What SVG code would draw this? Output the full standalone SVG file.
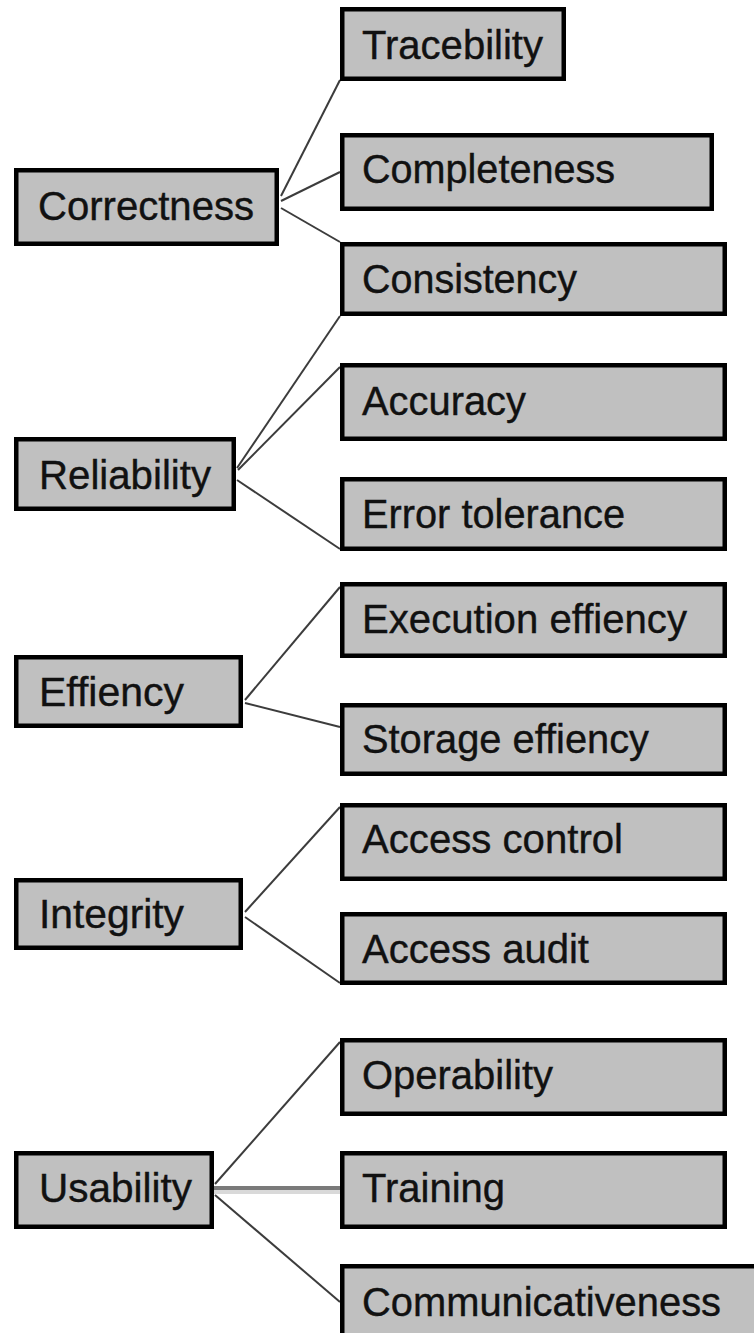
<svg xmlns="http://www.w3.org/2000/svg" width="754" height="1333" viewBox="0 0 754 1333">
<style>
.box{fill:#c0c0c0;stroke:#000;stroke-width:4.5}
.lbl{font-family:"Liberation Sans",Arial,sans-serif;font-size:41px;fill:#111;stroke:#111;stroke-width:0.4}
.con{stroke:#3c3c3c;stroke-width:2;fill:none}
</style>
<rect width="754" height="1333" fill="#fff"/>
<g id="connectors">
<line class="con" x1="281" y1="196" x2="340" y2="80"/>
<line class="con" x1="281" y1="201" x2="340" y2="172"/>
<line class="con" x1="281" y1="208" x2="340" y2="242"/>
<line class="con" x1="237" y1="468" x2="340" y2="316"/>
<line class="con" x1="238" y1="470" x2="340" y2="367"/>
<line class="con" x1="237" y1="480" x2="340" y2="549"/>
<line class="con" x1="245" y1="700" x2="340" y2="587"/>
<line class="con" x1="245" y1="703" x2="340" y2="727"/>
<line class="con" x1="245" y1="912" x2="340" y2="807"/>
<line class="con" x1="245" y1="917" x2="340" y2="983"/>
<line class="con" x1="215" y1="1184" x2="340" y2="1042"/>
<line x1="214" y1="1188" x2="340" y2="1188" stroke="#7a7a7a" stroke-width="4"/>
<line x1="214" y1="1192" x2="340" y2="1192" stroke="#d9d9d9" stroke-width="4"/>
<line class="con" x1="215" y1="1195" x2="340" y2="1302"/>
</g>
<g id="correctness"><rect class="box" x="16.25" y="170.25" width="260.5" height="73.5"/><text class="lbl" x="38" y="220" textLength="216" lengthAdjust="spacingAndGlyphs">Correctness</text></g>
<g id="tracebility"><rect class="box" x="342.25" y="9.25" width="221.5" height="69.5"/><text class="lbl" x="362" y="59" textLength="181" lengthAdjust="spacingAndGlyphs">Tracebility</text></g>
<g id="completeness"><rect class="box" x="342.25" y="135.25" width="369.5" height="73.5"/><text class="lbl" x="362" y="183" textLength="253" lengthAdjust="spacingAndGlyphs">Completeness</text></g>
<g id="consistency"><rect class="box" x="342.25" y="244.25" width="382.5" height="69.5"/><text class="lbl" x="362" y="293" textLength="215" lengthAdjust="spacingAndGlyphs">Consistency</text></g>
<g id="reliability"><rect class="box" x="16.25" y="439.25" width="217.5" height="69.5"/><text class="lbl" x="39" y="489" textLength="172" lengthAdjust="spacingAndGlyphs">Reliability</text></g>
<g id="accuracy"><rect class="box" x="342.25" y="365.25" width="382.5" height="73.5"/><text class="lbl" x="362" y="415" textLength="164" lengthAdjust="spacingAndGlyphs">Accuracy</text></g>
<g id="error-tolerance"><rect class="box" x="342.25" y="479.25" width="382.5" height="69.5"/><text class="lbl" x="362" y="528" textLength="263" lengthAdjust="spacingAndGlyphs">Error tolerance</text></g>
<g id="effiency"><rect class="box" x="16.25" y="657.25" width="224.5" height="68.5"/><text class="lbl" x="39" y="706" textLength="145" lengthAdjust="spacingAndGlyphs">Effiency</text></g>
<g id="execution-effiency"><rect class="box" x="342.25" y="584.25" width="382.5" height="71.5"/><text class="lbl" x="362" y="633" textLength="325" lengthAdjust="spacingAndGlyphs">Execution effiency</text></g>
<g id="storage-effiency"><rect class="box" x="342.25" y="705.25" width="382.5" height="68.5"/><text class="lbl" x="362" y="753" textLength="287" lengthAdjust="spacingAndGlyphs">Storage effiency</text></g>
<g id="integrity"><rect class="box" x="16.25" y="880.25" width="224.5" height="67.5"/><text class="lbl" x="39" y="928" textLength="145" lengthAdjust="spacingAndGlyphs">Integrity</text></g>
<g id="access-control"><rect class="box" x="342.25" y="805.25" width="382.5" height="73.5"/><text class="lbl" x="362" y="853" textLength="261" lengthAdjust="spacingAndGlyphs">Access control</text></g>
<g id="access-audit"><rect class="box" x="342.25" y="914.25" width="382.5" height="68.5"/><text class="lbl" x="362" y="963" textLength="227" lengthAdjust="spacingAndGlyphs">Access audit</text></g>
<g id="usability"><rect class="box" x="16.25" y="1153.25" width="195.5" height="73.5"/><text class="lbl" x="39" y="1202" textLength="153" lengthAdjust="spacingAndGlyphs">Usability</text></g>
<g id="operability"><rect class="box" x="342.25" y="1040.25" width="382.5" height="73.5"/><text class="lbl" x="362" y="1089" textLength="191" lengthAdjust="spacingAndGlyphs">Operability</text></g>
<g id="training"><rect class="box" x="342.25" y="1153.25" width="382.5" height="73.5"/><text class="lbl" x="362" y="1202" textLength="143" lengthAdjust="spacingAndGlyphs">Training</text></g>
<g id="communicativeness"><rect class="box" x="342.25" y="1266.25" width="440" height="100"/><text class="lbl" x="362" y="1316" textLength="359" lengthAdjust="spacingAndGlyphs">Communicativeness</text></g>
</svg>
